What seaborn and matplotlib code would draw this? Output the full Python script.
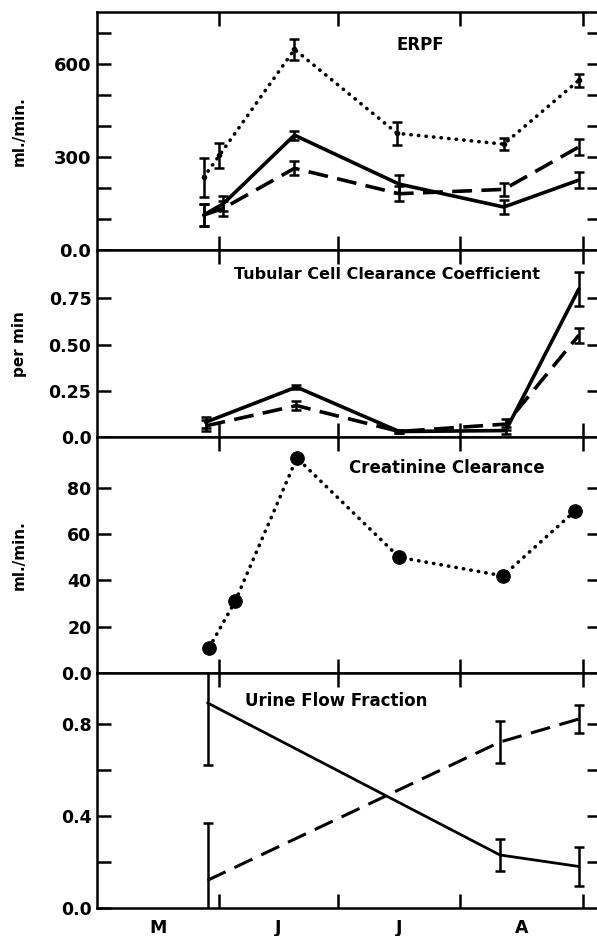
import numpy as np
import pandas as pd
import matplotlib.pyplot as plt
import seaborn as sns

# --- data (days counted from May 1) ---
erpf_dot_days = [27, 31, 50, 76, 103, 122]
erpf_dot = [235, 306, 648, 377, 342, 548]
erpf_dot_err = [63, 40, 35, 37, 20, 22]

erpf_days = [27, 32, 50, 76.5, 103, 122]
erpf_solid = [113, 150, 371, 213, 139, 226]
erpf_solid_err = [35, 25, 15, 30, 22, 26]
erpf_dash = [113, 135, 264, 182, 196, 333]
erpf_dash_err = [35, 25, 22, 25, 20, 25]

tub_days = [27.5, 50.5, 76.5, 103.5, 122]
tub_solid = [0.08, 0.27, 0.03, 0.035, 0.80]
tub_solid_err = [0.03, 0.01, 0.01, 0.02, 0.09]
tub_dash = [0.06, 0.17, 0.03, 0.07, 0.55]
tub_dash_err = [0.03, 0.025, 0.01, 0.03, 0.04]

creat_days = [28.4, 35, 50.6, 76.5, 102.8, 121]
creat = [11, 31, 93, 50, 42, 70]

urine_days = [28, 102, 122]
urine_solid = [0.89, 0.23, 0.18]
urine_solid_err = [0.27, 0.07, 0.085]
urine_dash = [0.12, 0.72, 0.82]
urine_dash_err = [0.25, 0.09, 0.06]

month_edges = [31, 61, 92, 123]
month_mid = [15.5, 46, 76.5, 107.5]
month_labels = ['M', 'J', 'J', 'A']

# --- style ---
sns.set_style('ticks')
plt.rcParams['font.family'] = ['DejaVu Sans']
plt.rcParams['font.weight'] = 'bold'
for k in ['text.color', 'axes.edgecolor', 'axes.labelcolor', 'xtick.color', 'ytick.color']:
    plt.rcParams[k] = 'black'

DOT = (0, (0.1, 2.0))
DASH = (0, (5.5, 2.6))

fig = plt.figure(figsize=(5.97, 9.36), dpi=100)
gs = fig.add_gridspec(4, 1, left=0.1625, right=1.0, top=0.987, bottom=0.03,
                      hspace=0, height_ratios=[238, 187, 236, 235])
axes = [fig.add_subplot(gs[i]) for i in range(4)]


def line(ax, x, y, ls, lw=2.3, **kw):
    df = pd.DataFrame({'x': x, 'y': y})
    sns.lineplot(data=df, x='x', y='y', ax=ax, color='black', linewidth=lw,
                 linestyle=ls, sort=False, estimator=None,
                 dash_capstyle='round' if ls == DOT else 'butt', **kw)


def ebar(ax, x, y, e, lw=1.8):
    ax.errorbar(x, y, yerr=e, fmt='none', ecolor='black', elinewidth=lw,
                capsize=3.6, capthick=lw)


# ERPF
ax = axes[0]
line(ax, erpf_dot_days, erpf_dot, DOT, lw=2.6, marker='o', markersize=4,
     markeredgewidth=0)
ebar(ax, erpf_dot_days, erpf_dot, erpf_dot_err)
line(ax, erpf_days, erpf_solid, '-', lw=2.6)
ebar(ax, erpf_days, erpf_solid, erpf_solid_err)
line(ax, erpf_days, erpf_dash, DASH, lw=2.6)
ebar(ax, erpf_days, erpf_dash, erpf_dash_err)
ax.set_ylim(0, 768)
ax.set_yticks([0, 300, 600])
ax.set_yticklabels(['0.0', '300', '600'])
ax.set_yticks([100, 200, 400, 500, 700], minor=True)
ax.set_ylabel('ml./min.')
ax.text(0.646, 0.861, 'ERPF', transform=ax.transAxes, ha='center', va='center',
        fontsize=12, fontweight='bold')

# Tubular cell clearance coefficient
ax = axes[1]
line(ax, tub_days, tub_solid, '-', lw=2.6)
ebar(ax, tub_days, tub_solid, tub_solid_err)
line(ax, tub_days, tub_dash, DASH, lw=2.6)
ebar(ax, tub_days, tub_dash, tub_dash_err)
ax.set_ylim(0, 1.01)
ax.set_yticks([0, 0.25, 0.5, 0.75])
ax.set_yticklabels(['0.0', '0.25', '0.50', '0.75'])
ax.set_ylabel('per min')
ax.text(0.58, 0.872, 'Tubular Cell Clearance Coefficient', transform=ax.transAxes,
        ha='center', va='center', fontsize=11.5, fontweight='bold')

# Creatinine clearance
ax = axes[2]
line(ax, creat_days, creat, DOT, lw=2.6)
sns.scatterplot(x=creat_days, y=creat, ax=ax, color='black', s=95,
                edgecolor='black', zorder=3)
ax.set_ylim(0, 102)
ax.set_yticks([0, 20, 40, 60, 80])
ax.set_yticklabels(['0.0', '20', '40', '60', '80'])
ax.set_ylabel('ml./min.')
ax.text(0.70, 0.869, 'Creatinine Clearance', transform=ax.transAxes,
        ha='center', va='center', fontsize=12, fontweight='bold')

# Urine flow fraction
ax = axes[3]
line(ax, urine_days, urine_solid, '-', lw=2.0)
ebar(ax, urine_days, urine_solid, urine_solid_err)
line(ax, urine_days, urine_dash, (0, (6.5, 3.2)), lw=2.2)
ebar(ax, urine_days, urine_dash, urine_dash_err)
ax.set_ylim(0, 1.02)
ax.set_yticks([0, 0.4, 0.8])
ax.set_yticklabels(['0.0', '0.4', '0.8'])
ax.set_yticks([0.2, 0.6], minor=True)
ax.set_ylabel('')
ax.text(0.478, 0.881, 'Urine Flow Fraction', transform=ax.transAxes,
        ha='center', va='center', fontsize=12, fontweight='bold')

for i, ax in enumerate(axes):
    ax.set_xlim(0, 126.6)
    ax.set_xticks(month_edges)
    ax.set_xlabel('')
    ax.spines['right'].set_visible(False)
    for s in ['left', 'top', 'bottom']:
        ax.spines[s].set_linewidth(1.8)
    ax.tick_params(axis='y', which='both', direction='in', length=10, width=1.8,
                   left=True, right=False, labelsize=13 if i == 0 else 12.5, pad=4)
    ax.tick_params(axis='x', which='major', direction='in', length=10, width=1.8,
                   top=True, bottom=True, labelbottom=False)
    ax.yaxis.set_label_coords(-0.14, 0.5)
    ax.yaxis.label.set_fontsize(11)
    ax.yaxis.label.set_fontweight('bold')
    for lab in ax.get_yticklabels():
        lab.set_fontweight('bold')

    # short ticks along the right edge
    rt = ax.twinx()
    rt.set_ylim(ax.get_ylim())
    rt.set_yticks([t for t in list(ax.get_yticks()) + list(ax.get_yticks(minor=True))
                   if 0 < t < ax.get_ylim()[1]])
    rt.tick_params(axis='y', direction='in', length=7, width=1.8,
                   labelright=False, color='black')
    for s in rt.spines.values():
        s.set_visible(False)

axes[3].set_xticks(month_mid, minor=True)
axes[3].set_xticklabels(month_labels, minor=True)
axes[3].tick_params(axis='x', which='minor', length=0, labelbottom=True,
                    labelsize=12.5, pad=8)
for lab in axes[3].get_xticklabels(minor=True):
    lab.set_fontweight('bold')

fig.savefig('out.png', dpi=100)
